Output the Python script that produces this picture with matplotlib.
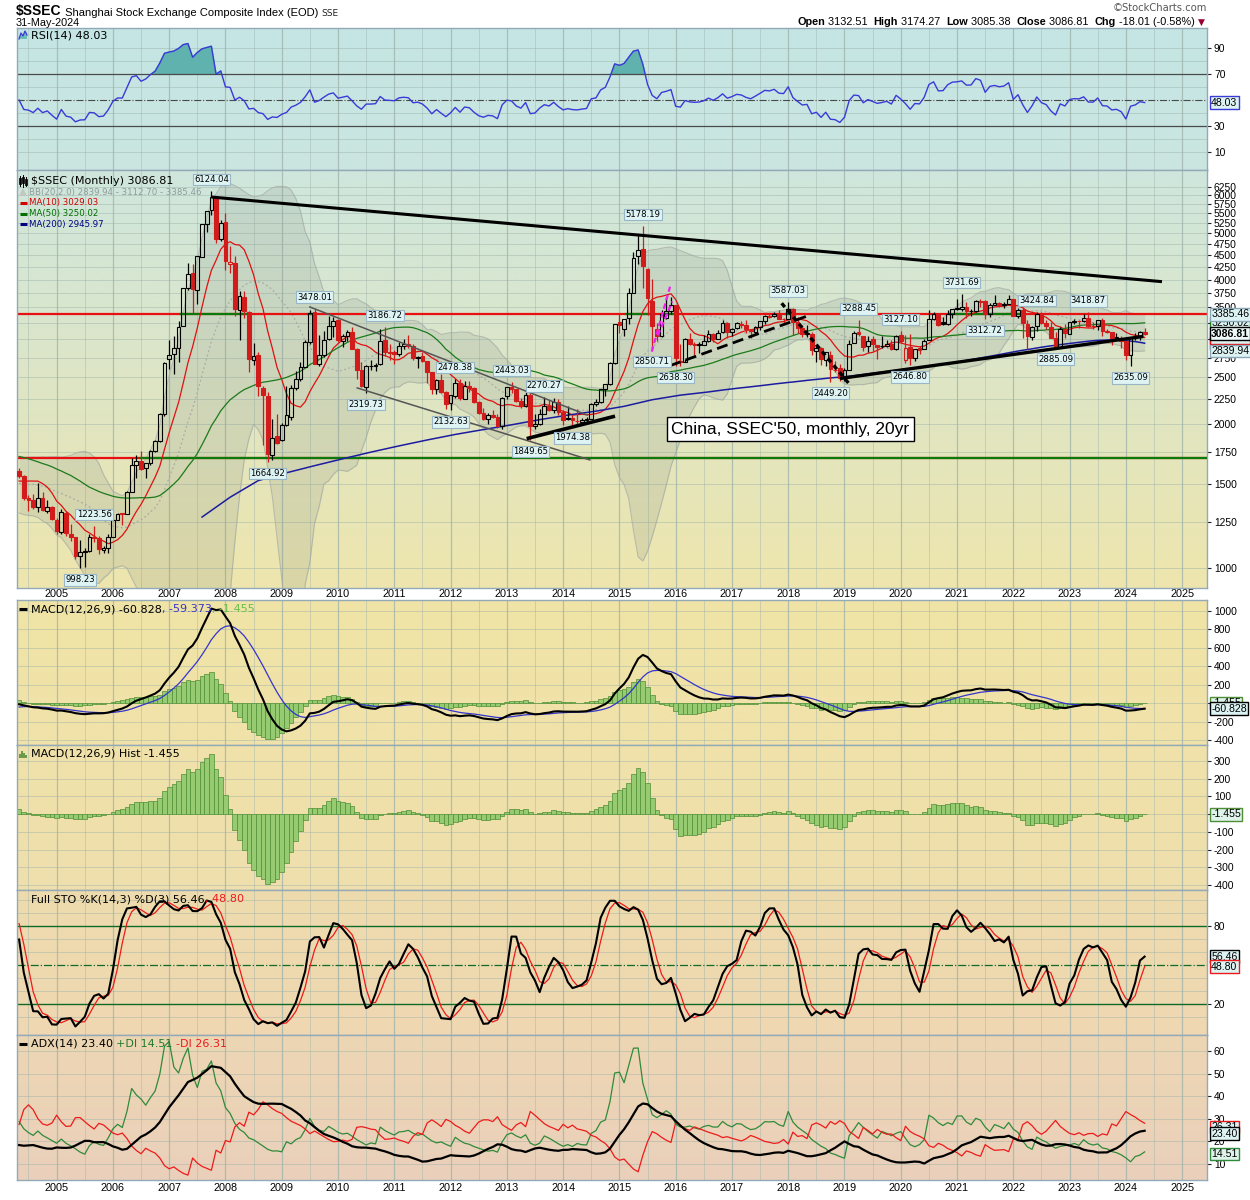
import numpy as np
import matplotlib
matplotlib.use("Agg")
import matplotlib.pyplot as plt
from matplotlib.colors import to_rgb
from matplotlib.ticker import FixedLocator, NullLocator, FuncFormatter

plt.rcParams['font.family'] = ['DejaVu Sans']
plt.rcParams['axes.unicode_minus'] = False

# ======================= DATA =======================
# warm-up history Jan-2000 .. Apr-2004 (only seeds the indicators, not drawn)
warm_close = [1534.9, 1714.6, 1800.2, 1836.3, 1894.6, 1928.1, 2023.5, 2021.8, 1910.2, 1961.3, 2070.6, 2073.5,
              2065.6, 1959.2, 2112.8, 2119.2, 2214.3, 2218.0, 1920.3, 1834.1, 1724.0, 1689.4, 1747.8, 1646.0,
              1491.6, 1524.7, 1603.0, 1654.7, 1515.7, 1732.8, 1650.5, 1669.4, 1581.6, 1507.5, 1421.6, 1357.7,
              1499.8, 1511.9, 1510.6, 1521.4, 1576.3, 1487.0, 1476.7, 1421.2, 1367.2, 1348.3, 1397.2, 1497.0,
              1590.7, 1675.1, 1741.6, 1595.6]
warm_high = [1535, 1733, 1815, 1847, 1908, 1938, 2024, 2091, 2032, 1980, 2081, 2126,
             2131, 2071, 2121, 2188, 2232, 2245, 2230, 1981, 1848, 1809, 1776, 1776,
             1649, 1525, 1606, 1662, 1653, 1748, 1706, 1681, 1670, 1581, 1507, 1412,
             1512, 1533, 1533, 1650, 1576, 1582, 1527, 1490, 1432, 1396, 1401, 1500,
             1596, 1690, 1760, 1783]
warm_low = [1361, 1528, 1652, 1776, 1783, 1848, 1920, 1992, 1880, 1900, 1961, 2036,
            2038, 1893, 1970, 2103, 2131, 2188, 1920, 1830, 1715, 1514, 1651, 1627,
            1339, 1440, 1523, 1584, 1501, 1455, 1630, 1612, 1577, 1502, 1412, 1311,
            1311, 1477, 1483, 1500, 1491, 1481, 1461, 1407, 1358, 1316, 1307, 1379,
            1492, 1590, 1660, 1592]

# monthly candles, May-2004 .. May-2024
open_2004 = [1590, 1556, 1398, 1385, 1340, 1398, 1318, 1340]
high_2004 = [1620, 1565, 1422, 1425, 1502, 1444, 1383, 1350]
low_2004 = [1541, 1384, 1313, 1330, 1306, 1313, 1300, 1259]
close_2004 = [1555.9, 1399.2, 1386.2, 1342.1, 1396.7, 1320.5, 1340.8, 1266.5]

open_2005 = [1261, 1190, 1305, 1180, 1158, 1059, 1081, 1083, 1162, 1157, 1092, 1099]
high_2005 = [1269, 1329, 1316, 1235, 1163, 1146, 1102, 1178, 1223.56, 1166, 1111, 1180]
low_2005 = [1177, 1175, 1166, 1137, 1044, 998.23, 1004, 1079, 1132, 1067, 1074, 1077]
close_2005 = [1191.8, 1306.0, 1181.2, 1159.2, 1060.7, 1080.9, 1083.0, 1162.8, 1155.6, 1092.8, 1099.3, 1161.1]

open_2006 = [1163, 1260, 1300, 1298, 1444, 1640, 1671, 1613, 1659, 1754, 1838, 2100]
high_2006 = [1263, 1304, 1302, 1445, 1693, 1725, 1757, 1660, 1760, 1850, 2103, 2698]
low_2006 = [1160, 1257, 1230, 1297, 1440, 1541, 1600, 1541, 1640, 1748, 1831, 2080]
close_2006 = [1258.0, 1299.0, 1298.3, 1440.2, 1641.3, 1672.2, 1612.7, 1658.6, 1752.4, 1837.9, 2099.3, 2675.5]

open_2007 = [2728, 2794, 2880, 3196, 3850, 4120, 3800, 4470, 5220, 5590, 5914, 4868]
high_2007 = [2995, 3050, 3274, 3848, 4335, 4312, 4488, 5232, 5562, 6124.04, 5914, 5334]
low_2007 = [2605, 2541, 2689, 3196, 3798, 3404, 3563, 4450, 5020, 5462, 4778, 4812]
close_2007 = [2786.3, 2881.1, 3183.9, 3841.3, 4109.7, 3820.7, 4471.0, 5218.8, 5552.3, 5954.8, 4871.8, 5261.6]

open_2008 = [5272, 4320, 4330, 3460, 3680, 3430, 2720, 2780, 2380, 2290, 1720, 1890]
high_2008 = [5523, 4696, 4472, 3786, 3786, 3443, 2952, 2822, 2400, 2333, 2051, 2100]
low_2008 = [4195, 4123, 3357, 2990, 3333, 2566, 2653, 2284, 1802, 1664.92, 1679, 1814]
close_2008 = [4383.4, 4348.5, 3472.7, 3693.1, 3433.4, 2736.1, 2775.7, 2397.4, 2293.8, 1728.8, 1871.2, 1820.8]

open_2009 = [1850, 1990, 2070, 2380, 2480, 2630, 2960, 3420, 2670, 2780, 3000, 3200]
high_2009 = [2012, 2402, 2408, 2580, 2689, 2998, 3455, 3478.01, 3068, 3123, 3361, 3338]
low_2009 = [1844, 1980, 2038, 2350, 2461, 2630, 2930, 2660, 2640, 2760, 2990, 3039]
close_2009 = [1990.7, 2082.9, 2373.2, 2477.6, 2632.9, 2959.4, 3412.1, 2667.7, 2779.4, 2995.9, 3195.3, 3277.1]

open_2010 = [3289, 2980, 3050, 3110, 2860, 2590, 2390, 2640, 2637, 2660, 2990, 2820]
high_2010 = [3306, 3080, 3137, 3181, 2878, 2696, 2648, 2719, 2681, 3159, 3186.72, 2939]
low_2010 = [2963, 2890, 2980, 2866, 2481, 2382, 2319.73, 2588, 2573, 2658, 2775, 2721]
close_2010 = [2989.3, 3051.9, 3109.1, 2870.6, 2592.2, 2398.4, 2637.5, 2638.8, 2655.7, 2978.8, 2820.2, 2808.1]

open_2011 = [2825, 2795, 2910, 2930, 2910, 2740, 2765, 2700, 2567, 2360, 2470, 2330]
high_2011 = [2851, 2960, 3000, 3067, 2937, 2774, 2827, 2707, 2567, 2478, 2536, 2345]
low_2011 = [2661, 2771, 2870, 2886, 2716, 2610, 2697, 2437, 2307, 2307, 2318, 2149]
close_2011 = [2790.7, 2905.1, 2928.1, 2911.5, 2743.5, 2762.1, 2701.7, 2567.3, 2359.2, 2468.3, 2333.4, 2199.4]

open_2012 = [2212, 2289, 2432, 2255, 2398, 2373, 2222, 2103, 2050, 2089, 2070, 1975]
high_2012 = [2300, 2478.38, 2476, 2453, 2461, 2390, 2227, 2160, 2111, 2133, 2094, 2276]
low_2012 = [2132.63, 2267, 2242, 2254, 2335, 2211, 2098, 2032, 1999, 2058, 1959, 1949]
close_2012 = [2292.6, 2428.5, 2262.8, 2396.3, 2372.2, 2225.4, 2103.6, 2047.5, 2086.2, 2068.9, 1980.1, 2269.1]

open_2013 = [2289, 2386, 2360, 2231, 2177, 2298, 1974, 1994, 2100, 2174, 2141, 2222]
high_2013 = [2392, 2443.03, 2363, 2262, 2334, 2314, 2093, 2149, 2270.27, 2243, 2259, 2258]
low_2013 = [2253, 2318, 2216, 2161, 2166, 1849.65, 1951, 1985, 2099, 2127, 2109, 2091]
close_2013 = [2385.4, 2365.6, 2236.6, 2177.9, 2300.6, 1979.2, 1993.8, 2098.4, 2174.7, 2141.6, 2220.5, 2116.0]

open_2014 = [2112, 2046, 2059, 2031, 2021, 2038, 2050, 2203, 2216, 2364, 2421, 2683]
high_2014 = [2132, 2177, 2088, 2147, 2055, 2062, 2206, 2248, 2365, 2424, 2687, 3239]
low_2014 = [1984, 2033, 1974.38, 1997, 1991, 2010, 2043, 2180, 2214, 2288, 2414, 2661]
close_2014 = [2033.1, 2056.3, 2033.3, 2026.4, 2039.2, 2048.3, 2201.6, 2217.2, 2363.9, 2420.2, 2682.8, 3234.7]

open_2015 = [3258, 3148, 3332, 3748, 4478, 4633, 4214, 3605, 3160, 3056, 3325, 3441]
high_2015 = [3406, 3312, 3835, 4573, 4986, 5178.19, 4222, 4006, 3243, 3459, 3678, 3684]
low_2015 = [3095, 3049, 3237, 3742, 4317, 3847, 3373, 2850.71, 2983, 3039, 3316, 3392]
close_2015 = [3210.4, 3310.3, 3747.9, 4441.7, 4611.7, 4277.2, 3663.7, 3205.9, 3052.8, 3382.6, 3445.4, 3539.2]

open_2016 = [3536, 2699, 2687, 3004, 2942, 2917, 2924, 2980, 3085, 3012, 3102, 3244]
high_2016 = [3539, 2934, 3019, 3097, 2959, 2969, 3071, 3140, 3101, 3137, 3301, 3265]
low_2016 = [2638.30, 2645, 2733, 2915, 2781, 2807, 2920, 2969, 2969, 3005, 3096, 3028]
close_2016 = [2737.6, 2688.0, 3003.9, 2938.3, 2916.6, 2929.6, 2979.3, 3085.5, 3004.7, 3100.5, 3250.0, 3103.6]

open_2017 = [3105, 3165, 3239, 3219, 3144, 3112, 3192, 3275, 3360, 3359, 3396, 3315]
high_2017 = [3174, 3261, 3284, 3295, 3154, 3195, 3276, 3377, 3392, 3418, 3450, 3325]
low_2017 = [3044, 3149, 3174, 3099, 3016, 3083, 3132, 3226, 3328, 3344, 3308, 3254]
close_2017 = [3159.2, 3241.7, 3222.5, 3154.7, 3117.2, 3192.4, 3273.0, 3360.8, 3348.9, 3393.3, 3317.2, 3307.2]

open_2018 = [3314, 3478, 3262, 3164, 3081, 3084, 2835, 2882, 2716, 2779, 2596, 2618]
high_2018 = [3587.03, 3495, 3334, 3220, 3219, 3114, 2916, 2895, 2827, 2838, 2703, 2667]
low_2018 = [3307, 3063, 3091, 3041, 3041, 2782, 2691, 2653, 2644, 2449.20, 2569, 2462]
close_2018 = [3480.8, 3259.4, 3168.9, 3082.2, 3095.5, 2847.4, 2876.4, 2725.3, 2821.4, 2602.8, 2588.2, 2493.9]

open_2019 = [2497, 2593, 2954, 3105, 3057, 2901, 3004, 2919, 2905, 2905, 2935, 2872]
high_2019 = [2618, 2998, 3129, 3288.45, 3057, 3047, 3048, 2921, 3048, 2994, 2987, 3065]
low_2019 = [2452, 2590, 2944, 3048, 2838, 2822, 2844, 2733, 2883, 2891, 2857, 2857]
close_2019 = [2584.6, 2940.95, 3090.8, 3078.3, 2898.7, 2978.9, 2932.5, 2886.2, 2905.2, 2929.1, 2872.0, 3050.1]

open_2020 = [3067, 2716, 2899, 2743, 2878, 2870, 2991, 3315, 3392, 3262, 3228, 3387]
high_2020 = [3127.10, 3058, 3074, 2861, 2911, 3007, 3458, 3425, 3413, 3350, 3456, 3474]
low_2020 = [2955, 2685, 2646.80, 2702, 2794, 2866, 2986, 3296, 3202, 3212, 3210, 3325]
close_2020 = [2976.5, 2880.3, 2750.3, 2860.1, 2852.4, 2984.7, 3310.0, 3395.7, 3218.1, 3224.5, 3391.8, 3473.1]

open_2021 = [3474, 3479, 3510, 3437, 3436, 3611, 3601, 3385, 3542, 3576, 3543, 3565]
high_2021 = [3637, 3731.69, 3600, 3481, 3625, 3639, 3629, 3581, 3723, 3599, 3597, 3709]
low_2021 = [3450, 3434, 3328, 3354, 3416, 3511, 3312.72, 3344, 3532, 3515, 3493, 3560]
close_2021 = [3483.1, 3509.1, 3441.9, 3446.9, 3615.5, 3591.2, 3397.4, 3543.9, 3568.2, 3547.3, 3563.9, 3639.8]

open_2022 = [3650, 3355, 3464, 3238, 3042, 3196, 3390, 3242, 3188, 3024, 2899, 3161]
high_2022 = [3651, 3491, 3511, 3291, 3195, 3424.84, 3417, 3296, 3262, 3105, 3180, 3227]
low_2022 = [3357, 3329, 3023, 2863, 2997, 3124, 3232, 3155, 3021, 2885.09, 2886, 3027]
close_2022 = [3361.4, 3462.3, 3252.2, 3047.1, 3186.4, 3398.6, 3253.2, 3202.1, 3024.4, 2893.5, 3151.3, 3089.3]

open_2023 = [3087, 3255, 3282, 3282, 3321, 3196, 3198, 3290, 3124, 3109, 3014, 3027]
high_2023 = [3270, 3303, 3300, 3396, 3418.87, 3258, 3300, 3322, 3157, 3115, 3088, 3044]
low_2023 = [3086, 3230, 3177, 3259, 3184, 3158, 3145, 3053, 3098, 2923, 3007, 2882]
close_2023 = [3255.7, 3279.6, 3272.9, 3323.3, 3204.6, 3202.1, 3291.0, 3119.9, 3110.5, 3018.8, 3029.7, 2975.0]

open_2024 = [2972, 2779, 3017, 3048, 3105]
high_2024 = [2976, 3016, 3090, 3123, 3174.27]
low_2024 = [2724, 2635.09, 2993, 2995, 3069]
close_2024 = [2788.6, 3015.2, 3041.2, 3104.8, 3086.81]

# MA(200) (semi-annual, Aug-2007 .. Feb-2016); later part computed
ma200_read_idx = [39, 45, 51, 57, 63, 69, 75, 81, 87, 93, 99, 105, 111, 117, 123, 129, 135, 141]
ma200_read_val = [1277, 1405, 1522, 1580, 1635, 1690, 1745, 1798, 1850, 1900, 1945, 1990,
                  2040, 2085, 2125, 2175, 2245, 2295]

year_labels = [str(y) for y in range(2005, 2026)]

# legend / readout texts
rsi_last = 48.03
bb_last = (2839.94, 3112.70, 3385.46)
ma_last = {'MA(10)': 3029.03, 'MA(50)': 3250.02, 'MA(200)': 2945.97}
last_close = 3086.81
macd_last = (-60.828, -59.373, -1.455)
sto_last = (56.46, 48.80)
adx_last = (23.40, 14.51, 26.31)

# peak / trough labels: (year, month, value, side)
price_labels = [(2007, 10, 6124.04, 'a'), (2005, 6, 998.23, 'b'), (2005, 9, 1223.56, 'a'),
                (2008, 10, 1664.92, 'b'), (2009, 8, 3478.01, 'a'), (2010, 7, 2319.73, 'b'),
                (2010, 11, 3186.72, 'a'), (2012, 1, 2132.63, 'b'), (2012, 2, 2478.38, 'a'),
                (2013, 2, 2443.03, 'a'), (2013, 6, 1849.65, 'b'), (2013, 9, 2270.27, 'a'),
                (2014, 3, 1974.38, 'b'), (2015, 6, 5178.19, 'a'), (2015, 8, 2850.71, 'b'),
                (2016, 1, 2638.30, 'b'), (2018, 1, 3587.03, 'a'), (2018, 10, 2449.20, 'b'),
                (2019, 4, 3288.45, 'a'), (2020, 1, 3127.10, 'a'), (2020, 3, 2646.80, 'b'),
                (2021, 2, 3731.69, 'a'), (2021, 7, 3312.72, 'b'), (2022, 6, 3424.84, 'a'),
                (2022, 10, 2885.09, 'b'), (2023, 5, 3418.87, 'a'), (2024, 2, 2635.09, 'b')]

# ======================= ASSEMBLY =======================
def cat(prefix):
    out = []
    for y in range(2004, 2025):
        out += globals()[f"{prefix}_{y}"]
    return np.array(out, dtype=float)

O = cat('open'); Hh = cat('high'); Ll = cat('low'); C = cat('close')
N = len(C)
idx = np.arange(N)
W = len(warm_close)
C_all = np.concatenate([warm_close, C])
H_all = np.concatenate([warm_high, Hh])
L_all = np.concatenate([warm_low, Ll])


def mi(y, m):
    return (y - 2004) * 12 + (m - 5)


def sma(x, n):
    out = np.full(len(x), np.nan)
    for i in range(n - 1, len(x)):
        out[i] = np.mean(x[i - n + 1:i + 1])
    return out


def rstd(x, n):
    out = np.full(len(x), np.nan)
    for i in range(n - 1, len(x)):
        out[i] = np.std(x[i - n + 1:i + 1])
    return out


def ema(x, n):
    a = 2.0 / (n + 1)
    out = np.empty(len(x))
    out[0] = x[0]
    for i in range(1, len(x)):
        out[i] = a * x[i] + (1 - a) * out[i - 1]
    return out


def rsi_calc(c, n=14):
    d = np.diff(c)
    g = np.where(d > 0, d, 0.0)
    l = np.where(d < 0, -d, 0.0)
    out = np.full(len(c), np.nan)
    ag, al = g[:n].mean(), l[:n].mean()
    out[n] = 100 - 100 / (1 + ag / al)
    for i in range(n, len(d)):
        ag = (ag * (n - 1) + g[i]) / n
        al = (al * (n - 1) + l[i]) / n
        out[i + 1] = 100 - 100 / (1 + ag / al)
    return out


def sto_calc(h, l, c, n=14, k=3, d=3):
    fast = np.full(len(c), np.nan)
    for i in range(n - 1, len(c)):
        hh = h[i - n + 1:i + 1].max()
        ll = l[i - n + 1:i + 1].min()
        fast[i] = 100 * (c[i] - ll) / (hh - ll)
    K = sma(fast, k)
    D = sma(K, d)
    return K, D


def adx_calc(h, l, c, n=14):
    M = len(c)
    tr = np.zeros(M); pdm = np.zeros(M); mdm = np.zeros(M)
    for i in range(1, M):
        tr[i] = max(h[i] - l[i], abs(h[i] - c[i - 1]), abs(l[i] - c[i - 1]))
        up = h[i] - h[i - 1]
        dn = l[i - 1] - l[i]
        pdm[i] = up if (up > dn and up > 0) else 0.0
        mdm[i] = dn if (dn > up and dn > 0) else 0.0
    s_tr = np.full(M, np.nan); s_p = np.full(M, np.nan); s_m = np.full(M, np.nan)
    s_tr[n] = tr[1:n + 1].sum(); s_p[n] = pdm[1:n + 1].sum(); s_m[n] = mdm[1:n + 1].sum()
    for i in range(n + 1, M):
        s_tr[i] = s_tr[i - 1] - s_tr[i - 1] / n + tr[i]
        s_p[i] = s_p[i - 1] - s_p[i - 1] / n + pdm[i]
        s_m[i] = s_m[i - 1] - s_m[i - 1] / n + mdm[i]
    pdi = 100 * s_p / s_tr
    mdi = 100 * s_m / s_tr
    dx = 100 * np.abs(pdi - mdi) / (pdi + mdi)
    adx = np.full(M, np.nan)
    adx[2 * n - 1] = np.nanmean(dx[n:2 * n])
    for i in range(2 * n, M):
        adx[i] = (adx[i - 1] * (n - 1) + dx[i]) / n
    return adx, pdi, mdi


ma10 = sma(C_all, 10)[W:]
ma50 = sma(C_all, 50)[W:]
ma20 = sma(C_all, 20)
sd20 = rstd(C_all, 20)
bb_up = (ma20 + 2 * sd20)[W:]
bb_lo = np.maximum((ma20 - 2 * sd20)[W:], 10.0)
bb_mid = ma20[W:]
ma200_calc = sma(C_all, 200)[W:]
rsi = rsi_calc(C_all)[W:]
macd_full = ema(C_all, 12) - ema(C_all, 26)
sig_full = ema(macd_full, 9)
macd = macd_full[W:]; sig = sig_full[W:]; hist = macd - sig
stoK, stoD = sto_calc(H_all, L_all, C_all)
stoK, stoD = stoK[W:], stoD[W:]
adx, pdi, mdi = adx_calc(H_all, L_all, C_all)
adx, pdi, mdi = adx[W:], pdi[W:], mdi[W:]

# ======================= FIGURE =======================
FW, FH = 1250, 1200
X0, X1 = 17, 1207
fig = plt.figure(figsize=(FW / 100, FH / 100), dpi=100)
fig.patch.set_facecolor('white')


def rect(top, bot):
    return [X0 / FW, 1 - bot / FH, (X1 - X0) / FW, (bot - top) / FH]


def gradient_bg(top, bot, stops):
    bg = fig.add_axes(rect(top, bot))
    bg.set_axis_off()
    t = np.linspace(0, 1, 200)
    pos = [s[0] for s in stops]
    cols = np.array([to_rgb(s[1]) for s in stops])
    img = np.stack([np.interp(t, pos, cols[:, k]) for k in range(3)], axis=-1)[:, None, :]
    bg.imshow(img, aspect='auto', extent=[0, 1, 0, 1], origin='upper', interpolation='bilinear')
    bg.set_xlim(0, 1); bg.set_ylim(0, 1)


GRID = '#9db2aa'
SPINE = '#93a9b8'
XL = (-0.45, 253.3)
year_idx = [mi(y, 1) for y in range(2005, 2026)]
half_idx = [mi(y, 7) for y in range(2004, 2025)]


def panel(top, bot, stops):
    gradient_bg(top, bot, stops)
    ax = fig.add_axes(rect(top, bot))
    ax.patch.set_alpha(0)
    ax.set_xlim(*XL)
    for s in ax.spines.values():
        s.set_color(SPINE); s.set_linewidth(1.0)
    ax.yaxis.tick_right()
    ax.tick_params(axis='y', which='both', direction='out', length=3, labelsize=7.4,
                   pad=2, colors='#222222', labelcolor='black')
    ax.set_xticks(year_idx)
    ax.set_xticklabels([])
    ax.tick_params(axis='x', length=0)
    for v in year_idx:
        ax.axvline(v, color=GRID, lw=0.9, alpha=0.75, zorder=0)
    for v in half_idx:
        ax.axvline(v, color=GRID, lw=0.6, alpha=0.5, zorder=0)
    return ax


def hgrid(ax, vals):
    for v in vals:
        ax.axhline(v, color=GRID, lw=0.6, alpha=0.55, zorder=0)


def set_yt(ax, ticks, hidden=()):
    ax.yaxis.set_major_locator(FixedLocator(ticks))
    ax.yaxis.set_minor_locator(NullLocator())
    ax.yaxis.set_major_formatter(FuncFormatter(lambda v, p: "" if v in hidden else f"{v:g}"))
    for lab in ax.get_yticklabels():
        lab.set_family('Liberation Sans')


def value_box(ax, val, text, ec, bold=False, fc='#ddf3f3', zorder=20):
    ax.annotate(text, xy=(1.0, val), xycoords=('axes fraction', 'data'), xytext=(3, 0),
                textcoords='offset points', ha='left', va='center', fontsize=7.6,
                family='Liberation Sans', fontweight='bold' if bold else 'normal',
                bbox=dict(boxstyle='square,pad=0.12', fc=fc, ec=ec, lw=1.0),
                annotation_clip=False, zorder=zorder)


# ---------------- RSI panel ----------------
ax_rsi = panel(28, 170, [(0, '#c4e5e4'), (1, '#cbe6e0')])
ax_rsi.set_ylim(-3.85, 105.4)
set_yt(ax_rsi, [10, 30, 70, 90])
hgrid(ax_rsi, [10, 20, 40, 60, 80, 90])
ax_rsi.fill_between(idx, rsi, 70, where=rsi > 70, interpolate=True, color='#5fb2ae', zorder=2)
ax_rsi.fill_between(idx, rsi, 30, where=rsi < 30, interpolate=True, color='#5fb2ae', zorder=2)
ax_rsi.axhline(70, color='#4a4a4a', lw=0.9, zorder=2)
ax_rsi.axhline(30, color='#4a4a4a', lw=0.9, zorder=2)
ax_rsi.axhline(50, color='#4a4a4a', lw=0.8, ls='-.', zorder=2)
ax_rsi.plot(idx, rsi, color='#3a3ad8', lw=1.0, zorder=3)
value_box(ax_rsi, rsi_last, f"{rsi_last:.2f}", '#3a3ad8')

# ---------------- Main price panel ----------------
ax = panel(170, 588, [(0, '#cfe6dd'), (0.35, '#d9e6cd'), (1, '#eee5ad')])
ax.set_yscale('log')
ax.set_ylim(908, 6776)
ticks_main = list(range(1000, 6251, 250))
set_yt(ax, ticks_main, hidden=(3000, 3250))
ax.yaxis.set_minor_locator(NullLocator())
hgrid(ax, ticks_main)

# Bollinger band shading
ax.fill_between(idx, bb_lo, bb_up, color='#7d8a82', alpha=0.17, lw=0, zorder=1)
ax.plot(idx, bb_up, color='#a3aaa3', lw=0.8, alpha=0.7, zorder=1.2)
ax.plot(idx, bb_lo, color='#a3aaa3', lw=0.8, alpha=0.7, zorder=1.2)
ax.plot(idx, bb_mid, color='#a8aca6', lw=0.9, ls=(0, (1.5, 2)), zorder=1.3)

# horizontal levels, green where the close sits above the level
top_level, low_level = 3395, 1695
top_green = [(34.5, 48.5), (61.5, 62.5), (129.5, 134.5), (137.5, 139.5), (163.5, 164.5), (198.5, 213.5)]
low_green = [(25.8, XL[1])]
ax.plot(XL, [top_level, top_level], color='#e81010', lw=1.6, zorder=2.5)
for a, b in top_green:
    ax.plot([a, b], [top_level, top_level], color='#0a7a0a', lw=1.6, zorder=2.6)
ax.plot(XL, [low_level, low_level], color='#e81010', lw=1.6, zorder=2.5)
for a, b in low_green:
    ax.plot([a, b], [low_level, low_level], color='#0a7a0a', lw=1.6, zorder=2.6)

# moving averages
ax.plot(idx, ma10, color='#e01010', lw=0.9, zorder=3)
ax.plot(idx, ma50, color='#1b7a1b', lw=0.9, zorder=3)
ma200_x = np.concatenate([ma200_read_idx, idx[147:]])
ma200_y = np.concatenate([ma200_read_val, ma200_calc[147:]])
ax.plot(ma200_x, ma200_y, color='#1c1ca0', lw=1.1, zorder=3)

# candles
RED = '#d21c1c'
prev = np.concatenate([[warm_close[-1]], C[:-1]])
for i in range(N):
    col = RED if C[i] < prev[i] else 'black'
    top_b, bot_b = max(O[i], C[i]), min(O[i], C[i])
    ax.vlines(i, top_b, Hh[i], color=col, lw=0.9, zorder=4)
    ax.vlines(i, Ll[i], bot_b, color=col, lw=0.9, zorder=4)
    filled = C[i] < O[i]
    ax.bar(i, top_b - bot_b, bottom=bot_b, width=0.8,
           facecolor=(col if filled else 'none'), edgecolor=col, lw=0.8, zorder=4.5)

# trendlines (drawn annotations)
ax.plot([41, 243.7], [5950, 3961], color='black', lw=2.2, zorder=5, solid_capstyle='butt')
ax.plot([62.0, 121.1], [3507, 2087], color='#555555', lw=1.1, zorder=5)
ax.plot([72.1, 121.7], [2376, 1681], color='#555555', lw=1.1, zorder=5)
ax.plot([108.6, 126.7], [1866, 2070], color='black', lw=2.6, zorder=5)
ax.plot([138.8, 168.7], [2645, 3375], color='black', lw=2.0, ls=(0, (4, 2)), zorder=5)
ax.plot([162.6, 177.2], [3571, 2410], color='black', lw=2.4, ls=(0, (1.5, 1.2)), zorder=5)
ax.plot([175.4, 239.4], [2489, 3041], color='black', lw=2.4, zorder=5)
ax.plot([134.9, 138.8], [2829, 3866], color='#ee22ee', lw=1.6, ls=(0, (2.5, 1.5)), zorder=5)
ax.plot([136.2, 139.3], [3060, 3600], color='#ee22ee', lw=1.6, ls=(0, (2.5, 1.5)), zorder=5)

# peak/trough labels
for (yy, mm, val, side) in price_labels:
    off = 5 if side == 'a' else -5
    ax.annotate(f"{val:.2f}", xy=(mi(yy, mm), val), xytext=(0, off), textcoords='offset points',
                ha='center', va='bottom' if side == 'a' else 'top', fontsize=6.1,
                bbox=dict(boxstyle='square,pad=0.15', fc='#def3f3', ec='#98b6c6', lw=0.8),
                zorder=7)

ax.text(0.650, 0.380, "China, SSEC'50, monthly, 20yr", transform=ax.transAxes, ha='center',
        va='center', fontsize=12.5, family='Liberation Sans',
        bbox=dict(boxstyle='square,pad=0.25', fc='white', ec='black', lw=1.0), zorder=8)

# year labels between price and MACD
ax.set_xticklabels(year_labels)
ax.tick_params(axis='x', labelbottom=True, pad=1, labelsize=7.8)
for lab in ax.get_xticklabels():
    lab.set_family('Liberation Sans')

value_box(ax, ma_last['MA(200)'], f"{ma_last['MA(200)']:.2f}", '#1c1ca0')
value_box(ax, ma_last['MA(10)'], f"{ma_last['MA(10)']:.2f}", '#e01010')
value_box(ax, ma_last['MA(50)'], f"{ma_last['MA(50)']:.2f}", '#1b7a1b')
value_box(ax, bb_last[0], f"{bb_last[0]:.2f}", '#8aa8b8')
value_box(ax, bb_last[2], f"{bb_last[2]:.2f}", '#8aa8b8')
value_box(ax, last_close, f"{last_close:.2f}", 'black', bold=True, fc='#eef8f8')

# ---------------- MACD panel ----------------
HIST_FC, HIST_EC = '#96cb72', '#4e8e34'
ax_m = panel(600, 745, [(0, '#f0e4a6'), (1, '#f0e2a9')])
ax_m.set_ylim(-455, 1119)
set_yt(ax_m, list(range(-400, 1001, 200)), hidden=(0,))
hgrid(ax_m, list(range(-400, 1001, 200)))
ax_m.bar(idx, hist, width=1.0, facecolor=HIST_FC, edgecolor=HIST_EC, lw=0.5, zorder=2)
ax_m.plot(idx, sig, color='#3535cc', lw=0.9, zorder=3)
ax_m.plot(idx, macd, color='black', lw=1.5, zorder=4)
value_box(ax_m, macd_last[2], f"{macd_last[2]:.3f}", '#4e8e34', fc='#dff3ea')
value_box(ax_m, macd_last[0], f"{macd_last[0]:.3f}", 'black')

# ---------------- MACD histogram panel ----------------
ax_h = panel(745, 890, [(0, '#f0e2a9'), (1, '#efdfad')])
ax_h.set_ylim(-428, 390)
set_yt(ax_h, list(range(-400, 301, 100)), hidden=(0,))
hgrid(ax_h, list(range(-400, 301, 100)))
ax_h.bar(idx, hist, width=1.0, facecolor=HIST_FC, edgecolor=HIST_EC, lw=0.5, zorder=2)
value_box(ax_h, macd_last[2], f"{macd_last[2]:.3f}", '#4e8e34', fc='#dff3ea')

# ---------------- Full stochastics panel ----------------
ax_s = panel(890, 1035, [(0, '#efdcad'), (1, '#eed7b2')])
ax_s.set_ylim(-3.85, 107.7)
set_yt(ax_s, [20, 80])
hgrid(ax_s, [10, 30, 40, 60, 70, 90, 100])
ax_s.axhline(80, color='#0f6a2a', lw=1.0, zorder=2)
ax_s.axhline(20, color='#0f6a2a', lw=1.0, zorder=2)
ax_s.axhline(50, color='#0f6a2a', lw=0.9, ls='-.', zorder=2)
ax_s.plot(idx, stoD, color='#ee1a1a', lw=0.9, zorder=3)
ax_s.plot(idx, stoK, color='black', lw=1.5, zorder=4)
value_box(ax_s, sto_last[0], f"{sto_last[0]:.2f}", 'black')
value_box(ax_s, sto_last[1], f"{sto_last[1]:.2f}", '#ee1a1a')

# ---------------- ADX panel ----------------
ax_a = panel(1035, 1180, [(0, '#edd6b3'), (1, '#ead0bb')])
ax_a.set_ylim(2.9, 67.1)
set_yt(ax_a, [10, 20, 30, 40, 50, 60])
hgrid(ax_a, [10, 20, 30, 40, 50, 60])
ax_a.plot(idx, pdi, color='#2f8a3a', lw=0.9, zorder=3)
ax_a.plot(idx, mdi, color='#ee1a1a', lw=0.9, zorder=3)
ax_a.plot(idx, adx, color='black', lw=1.6, zorder=4)
value_box(ax_a, adx_last[2], f"{adx_last[2]:.2f}", '#ee1a1a')
value_box(ax_a, adx_last[0], f"{adx_last[0]:.2f}", 'black')
value_box(ax_a, adx_last[1], f"{adx_last[1]:.2f}", '#2f8a3a', fc='#dff3ea')
ax_a.set_xticklabels(year_labels)
ax_a.tick_params(axis='x', labelbottom=True, pad=2, labelsize=7.8)
for lab in ax_a.get_xticklabels():
    lab.set_family('Liberation Sans')

# ======================= TEXT OVERLAY =======================
ov = fig.add_axes([0, 0, 1, 1])
ov.set_axis_off()
ov.set_xlim(0, FW); ov.set_ylim(FH, 0)


def chain(x, y, parts, size=8.0, family='DejaVu Sans'):
    t = None
    for p in parts:
        s, color = p[0], p[1]
        weight = p[2] if len(p) > 2 else 'normal'
        fam = p[3] if len(p) > 3 else family
        sz = p[4] if len(p) > 4 else size
        if t is None:
            t = ov.text(x, y, s, color=color, fontsize=sz, fontweight=weight, family=fam,
                        va='center', ha='left')
        else:
            t = ov.annotate(s, xy=(1, 0), xycoords=t, va='bottom', ha='left', color=color,
                            fontsize=sz, fontweight=weight, family=fam)
    return t


def dash(x0, x1, y, color):
    ov.plot([x0, x1], [y, y], color=color, lw=2.2, solid_capstyle='butt')


# small legend icons
ov.fill([19, 21, 23, 25, 27, 27, 19], [39, 33, 36, 31, 35, 39, 39], color='#6cbcb8', lw=0)
ov.plot([19, 21, 23, 25, 27], [39, 33, 36, 31, 35], color='#3a3ad8', lw=0.9)
for xx, y0, y1, yb0, yb1 in [(20, 176, 186, 178, 184), (23, 175, 187, 177, 183), (26, 177, 186, 179, 185)]:
    ov.plot([xx, xx], [y0, y1], color='black', lw=0.7)
    ov.add_patch(plt.Rectangle((xx - 1, yb0), 2, yb1 - yb0, fc='white', ec='black', lw=0.6))
ov.fill([19, 23, 27], [196, 188, 196], color='#c0c8c0', lw=0)
for k, hgt in enumerate([4, 7, 5, 3]):
    ov.add_patch(plt.Rectangle((19 + 2 * k, 758 - hgt), 1.6, hgt, fc='#6a9a4a', ec='none'))

# header
chain(16, 11, [("$SSEC", 'black', 'bold', 'Liberation Sans', 10.0),
               (" Shanghai Stock Exchange Composite Index (EOD) ", 'black', 'normal', 'Liberation Sans', 8.0),
               ("SSE", '#222222', 'normal', 'DejaVu Sans', 6.5)])
ov.text(16, 23, "31-May-2024", fontsize=7.8, family='Liberation Sans', va='center', ha='left')
ov.text(1207, 8, "\u00a9StockCharts.com", fontsize=7.2, family='DejaVu Sans', color='#555555',
        va='center', ha='right')
chain(797, 22, [("Open", 'black', 'bold'), (" 3132.51  ", 'black'), ("High", 'black', 'bold'),
                (" 3174.27  ", 'black'), ("Low", 'black', 'bold'), (" 3085.38  ", 'black'),
                ("Close", 'black', 'bold'), (" 3086.81  ", 'black'), ("Chg", 'black', 'bold'),
                (" -18.01 (-0.58%) ", 'black'), ("\u25bc", '#990033', 'normal', 'DejaVu Sans', 6.5)],
      size=7.8, family='Liberation Sans')

# panel legends
chain(31, 35, [(f"RSI(14) {rsi_last:.2f}", 'black')])
chain(31, 181, [(f"$SSEC (Monthly) {last_close:.2f}", 'black')])
chain(29, 192, [(f"BB(20,2.0) {bb_last[0]:.2f} - {bb_last[1]:.2f} - {bb_last[2]:.2f}", '#8e9c9c')],
      size=6.2)
for k, (name, col) in enumerate([('MA(10)', '#d40000'), ('MA(50)', '#007000'), ('MA(200)', '#000080')]):
    yy = 203 + k * 10.7
    dash(20, 27, yy, col)
    chain(29, yy, [(f"{name} {ma_last[name]:.2f}", col)], size=6.2)
dash(19, 27, 609, 'black')
chain(31, 609, [(f"MACD(12,26,9) {macd_last[0]:.3f}", 'black'), (f", {macd_last[1]:.3f}", '#3535cc'),
                (f", {macd_last[2]:.3f}", '#6cbf4a')])
chain(31, 754, [(f"MACD(12,26,9) Hist {macd_last[2]:.3f}", 'black')])
chain(31, 899, [(f"Full STO %K(14,3) %D(3) {sto_last[0]:.2f}", 'black'), (f", {sto_last[1]:.2f}", '#ee1a1a')])
dash(19, 27, 1044, 'black')
chain(31, 1044, [(f"ADX(14) {adx_last[0]:.2f} ", 'black'), (f"+DI {adx_last[1]:.2f} ", '#1f7a2a'),
                 (f"-DI {adx_last[2]:.2f}", '#ee1a1a')])

fig.savefig("out.png", dpi=100)
